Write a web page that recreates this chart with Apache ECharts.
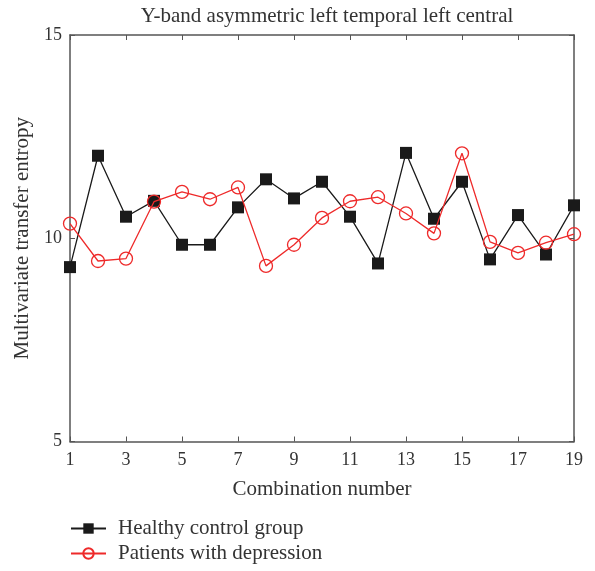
<!DOCTYPE html>
<html>
<head>
<meta charset="utf-8">
<script src="https://cdn.jsdelivr.net/npm/echarts@6/dist/echarts.min.js"></script>
<style>html,body{margin:0;padding:0;background:#fff;}#c{width:595px;height:571px;}</style>
</head>
<body>
<div id="c"></div>
<script>
const combos = [1,2,3,4,5,6,7,8,9,10,11,12,13,14,15,16,17,18,19];
const healthy = [9.29,12.03,10.53,10.92,9.84,9.84,10.76,11.45,10.98,11.39,10.53,9.38,12.10,10.48,11.39,9.48,10.57,9.60,10.81];
const patients = [10.36,9.44,9.50,10.90,11.14,10.96,11.25,9.32,9.84,10.50,10.91,11.01,10.61,10.12,12.09,9.91,9.64,9.89,10.10];
const yTicks = [5,10,15];

const FONT = 'Liberation Serif';
const chart = echarts.init(document.getElementById('c'));
const pair = arr => combos.map((x,i)=>[x,arr[i]]);
const axisLine = {show:true, lineStyle:{color:'#555', width:1.5}};
chart.setOption({
  animation:false,
  backgroundColor:'#fff',
  title:{text:'Y-band asymmetric left temporal left central', left:322, textAlign:'center', top:1,
    textStyle:{fontFamily:FONT, fontSize:21, fontWeight:'normal', color:'#333'}},
  grid:{left:70, right:21, top:35, bottom:129.5},
  legend:{orient:'vertical', left:65, top:513, itemWidth:35, itemHeight:13, itemGap:4,
    textStyle:{fontFamily:FONT, fontSize:21, color:'#333', padding:[0,0,0,7]}},
  xAxis:[{type:'value', min:1, max:19, interval:2, position:'bottom',
    name:'Combination number', nameLocation:'middle', nameGap:37,
    nameTextStyle:{fontFamily:FONT, fontSize:21, color:'#333'},
    axisLine:axisLine, axisTick:{show:true, inside:true, length:5, lineStyle:{color:'#555'}},
    axisLabel:{fontFamily:FONT, fontSize:18, color:'#333', margin:10},
    splitLine:{show:false}},
   {type:'value', min:1, max:19, interval:2, position:'top',
    axisLine:axisLine, axisTick:{show:true, inside:true, length:5, lineStyle:{color:'#555'}},
    axisLabel:{show:false}, splitLine:{show:false}}],
  yAxis:[{type:'value', min:5, max:15, interval:5, position:'left',
    name:'Multivariate transfer entropy', nameLocation:'middle', nameGap:34,
    nameTextStyle:{fontFamily:FONT, fontSize:21, color:'#333'},
    axisLine:axisLine, axisTick:{show:true, inside:true, length:5, lineStyle:{color:'#555'}},
    axisLabel:{fontFamily:FONT, fontSize:18, color:'#333', margin:8, formatter:v=>yTicks.includes(v)?String(v):''},
    splitLine:{show:false}},
   {type:'value', min:5, max:15, interval:5, position:'right',
    axisLine:axisLine, axisTick:{show:true, inside:true, length:5, lineStyle:{color:'#555'}},
    axisLabel:{show:false}, splitLine:{show:false}}],
  series:[
    {name:'Healthy control group', type:'line', data:pair(healthy),
      symbol:'rect', symbolSize:12, lineStyle:{color:'#1a1a1a', width:1.3},
      itemStyle:{color:'#1a1a1a', borderWidth:0}, z:2},
    {name:'Patients with depression', type:'line', data:pair(patients),
      symbol:'circle', symbolSize:13, lineStyle:{color:'#ee2a2a', width:1.3},
      itemStyle:{color:'rgba(0,0,0,0)', borderColor:'#ee2a2a', borderWidth:1.3}, z:3}
  ]
});
</script>
</body>
</html>
